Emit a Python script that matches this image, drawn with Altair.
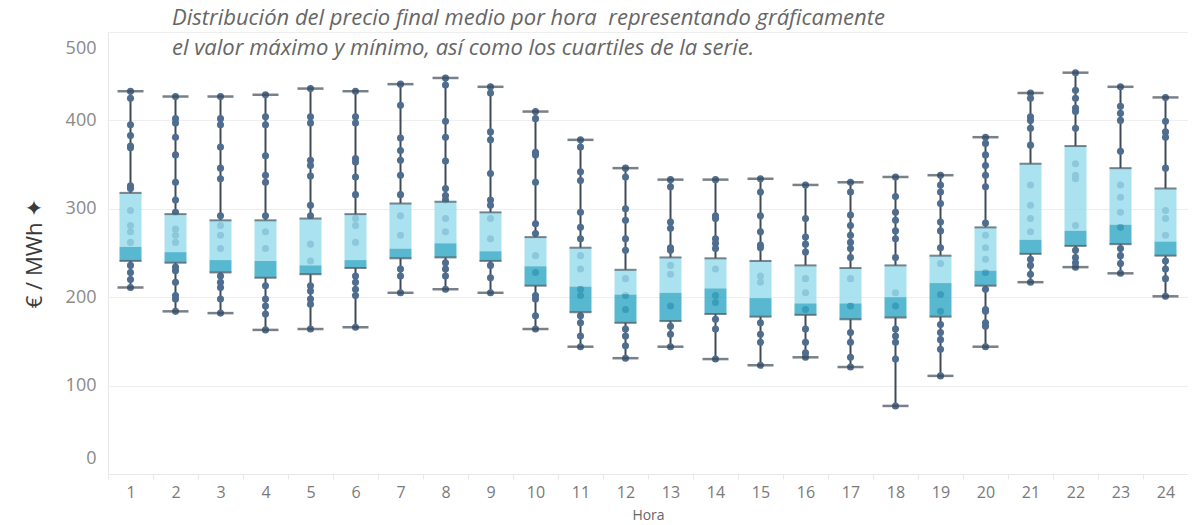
import altair as alt
import pandas as pd

horas = list(range(1, 25))
maximos = [433, 427, 427, 429, 436, 433, 441, 448, 438, 410, 378, 346, 333, 333, 334, 327, 330, 336, 338, 381, 431, 454, 438, 426]
q3s = [318, 294, 287, 287, 289, 294, 306, 308, 296, 268, 256, 231, 245, 244, 241, 236, 233, 236, 247, 279, 351, 371, 346, 323]
medianas = [257, 251, 242, 241, 236, 242, 255, 261, 252, 235, 212, 203, 205, 210, 199, 193, 193, 200, 216, 230, 265, 275, 282, 263]
q1s = [241, 239, 228, 222, 226, 233, 244, 245, 241, 213, 183, 171, 173, 181, 178, 180, 175, 177, 178, 213, 249, 258, 260, 247]
minimos = [211, 184, 182, 163, 164, 166, 205, 209, 205, 164, 144, 131, 144, 130, 123, 132, 121, 77, 111, 144, 217, 234, 227, 201]

puntos = [
    [433, 425, 395, 383, 371, 369, 326, 323, 298, 281, 274, 262, 236, 228, 220, 211],
    [427, 402, 397, 381, 361, 330, 310, 296, 277, 270, 262, 234, 230, 217, 202, 198, 184],
    [427, 402, 395, 370, 346, 334, 292, 281, 270, 255, 224, 217, 211, 198, 182],
    [429, 404, 395, 360, 338, 330, 292, 274, 255, 213, 198, 190, 181, 163],
    [436, 404, 397, 355, 349, 337, 304, 292, 260, 241, 213, 207, 198, 192, 164],
    [433, 404, 397, 357, 353, 336, 316, 289, 281, 262, 224, 217, 209, 202, 166],
    [441, 417, 380, 366, 355, 338, 316, 292, 270, 232, 224, 205],
    [448, 440, 399, 381, 354, 323, 315, 310, 289, 274, 239, 232, 224, 209],
    [438, 431, 387, 378, 340, 310, 304, 289, 266, 236, 222, 205],
    [410, 402, 364, 361, 330, 283, 272, 247, 228, 202, 198, 179, 164],
    [378, 370, 342, 332, 296, 279, 266, 247, 232, 209, 202, 179, 171, 156, 144],
    [346, 336, 300, 287, 266, 253, 221, 202, 186, 164, 156, 145, 131],
    [333, 325, 285, 278, 256, 253, 236, 226, 190, 167, 158, 144],
    [333, 292, 289, 266, 261, 255, 232, 202, 194, 175, 164, 130],
    [334, 319, 292, 274, 259, 256, 224, 217, 171, 158, 149, 123],
    [327, 289, 268, 260, 251, 221, 205, 186, 164, 149, 137, 132],
    [330, 319, 293, 281, 270, 262, 255, 245, 221, 190, 160, 149, 132, 121],
    [336, 314, 296, 287, 275, 266, 245, 205, 190, 164, 156, 149, 130, 77],
    [338, 327, 319, 306, 285, 275, 256, 238, 203, 184, 169, 160, 152, 141, 111],
    [381, 374, 361, 349, 338, 325, 284, 270, 256, 243, 228, 209, 186, 184, 171, 167, 144],
    [431, 425, 404, 400, 391, 372, 327, 304, 289, 274, 243, 236, 226, 217],
    [454, 434, 425, 414, 410, 391, 351, 338, 334, 281, 253, 245, 239, 234],
    [438, 416, 408, 400, 365, 327, 313, 296, 279, 255, 247, 238, 227],
    [426, 399, 387, 381, 346, 298, 289, 270, 241, 232, 221, 201],
]

titulo = [
    "Distribución del precio final medio por hora\u00a0 representando gráficamente",
    "el valor máximo y mínimo, así como los cuartiles de la serie.",
]

stats = pd.DataFrame({"hora": horas, "min": minimos, "q1": q1s, "med": medianas, "q3": q3s, "max": maximos})
pts = pd.DataFrame([{"hora": h, "precio": v} for h, vals in zip(horas, puntos) for v in vals])

FONT = "Open Sans"
x = alt.X(
    "hora:O",
    scale=alt.Scale(paddingInner=0, paddingOuter=0),
    axis=alt.Axis(
        title="Hora", labelAngle=0, labelFontSize=16, labelColor="#7a7a7a", labelFont=FONT,
        labelPadding=5, titleFont=FONT, titleFontSize=14, titleColor="#666666", titleFontWeight="normal",
        titlePadding=8, domainColor="#e8e8e8", tickColor="#e8e8e8", tickBand="extent", tickSize=5,
        grid=False,
    ),
)
yscale = alt.Scale(domain=[0, 500], nice=False)
yaxis = alt.Axis(
    title="€ / MWh ✦", values=[0, 100, 200, 300, 400, 500], labelFlush=True, labelFlushOffset=-7,
    labelFontSize=18, labelColor="#8a8a8a", labelFont=FONT, labelPadding=12, ticks=False,
    domainColor="#e8e8e8", gridColor="#eeeeee", titleFont=FONT, titleFontSize=22, titleColor="#3a3a3a",
    titleFontWeight="normal", titlePadding=19,
)

WH = "#3f4a55"
base = alt.Chart(stats)
w_lo = base.mark_rule(color=WH, strokeWidth=2).encode(x=x, y=alt.Y("min:Q", scale=yscale, axis=yaxis), y2="q1:Q")
w_hi = base.mark_rule(color=WH, strokeWidth=2).encode(x=x, y=alt.Y("q3:Q", scale=yscale), y2="max:Q")
dots = alt.Chart(pts).mark_circle(size=50, color="#4e6d8f", opacity=1).encode(x=x, y=alt.Y("precio:Q", scale=yscale))
box_hi = base.mark_bar(size=22, color="#98dcec", opacity=0.82).encode(x=x, y=alt.Y("med:Q", scale=yscale), y2="q3:Q")
box_lo = base.mark_bar(size=22, color="#33a8c4", opacity=0.82).encode(x=x, y=alt.Y("q1:Q", scale=yscale), y2="med:Q")
edges = [
    base.mark_tick(size=22, thickness=2, color="#4a5560").encode(x=x, y=alt.Y(f"{c}:Q", scale=yscale))
    for c in ["q1", "q3"]
]
caps = [
    base.mark_tick(size=26, thickness=2.5, color=WH).encode(x=x, y=alt.Y(f"{c}:Q", scale=yscale))
    for c in ["min", "max"]
]

chart = alt.layer(w_lo, w_hi, dots, box_hi, box_lo, *edges, *caps).properties(
    width=1080,
    height=442,
    autosize=alt.AutoSizeParams(type="none"),
    padding={"left": 100, "top": 24, "right": 0, "bottom": 51},
    title=alt.TitleParams(
        text=titulo, anchor="start", frame="group", dx=64, dy=28, offset=0,
        fontSize=22, fontStyle="italic", font=FONT, color="#666666", fontWeight="normal", lineHeight=30,
    ),
).configure_view(strokeWidth=0).configure(background="white")

chart.save("out.html", embed_options={"renderer": "svg", "actions": False})
